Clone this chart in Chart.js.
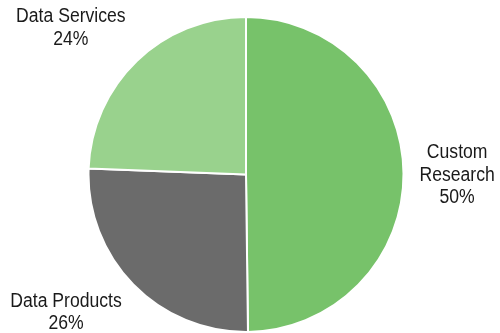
<!DOCTYPE html>
<html>
<head>
<meta charset="utf-8">
<script src="https://cdn.jsdelivr.net/npm/chart.js@4/dist/chart.umd.min.js"></script>
<style>
  html, body { margin: 0; padding: 0; background: #fff; }
  #wrap { width: 500px; height: 333px; }
</style>
</head>
<body>
<div id="wrap"><canvas id="pie"></canvas></div>
<script>
// categories + values (share of revenue, %)
var categories = ["Custom Research", "Data Products", "Data Services"];
var labelLines = [["Custom", "Research"], ["Data Products"], ["Data Services"]];
var shares = [49.8, 25.8, 24.4];
var sliceColors = ["#77C26A", "#6B6B6B", "#99D28D"];

//- outside labels, placed along each slice's mid angle
var outsideLabels = {
    id: "outsideLabels",
    afterDatasetsDraw: function (chart) {
        var ctx = chart.ctx;
        var meta = chart.getDatasetMeta(0);
        var total = shares.reduce(function (a, b) { return a + b; }, 0);
        var lineH = 22.5;
        var sx = 0.88; // labels look horizontally squeezed
        ctx.save();
        ctx.font = "20px 'Liberation Sans', Arial, sans-serif";
        ctx.fillStyle = "#1a1a1a";
        ctx.textAlign = "center";
        ctx.textBaseline = "middle";
        meta.data.forEach(function (arc, i) {
            var p = arc.getProps(["x", "y", "startAngle", "endAngle", "outerRadius"], true);
            var mid = (p.startAngle + p.endAngle) / 2;
            var d = p.outerRadius + 16;
            var dx = Math.cos(mid), dy = Math.sin(mid);
            var ax = p.x + dx * d, ay = p.y + dy * d;
            var lines = labelLines[i].concat([Math.round(shares[i] / total * 100) + "%"]);
            var w = 0;
            lines.forEach(function (l) { w = Math.max(w, ctx.measureText(l).width * sx); });
            var h = lines.length * lineH;
            var cx = dx >= 0 ? ax + w / 2 : ax - w / 2;
            var top = ay - h * (1 - dy) / 2;
            if (dy < 0) top += dy * 10;
            cx = Math.max(w / 2 + 2, Math.min(chart.width - w / 2 - 2, cx));
            top = Math.max(0, Math.min(chart.height - h, top));
            lines.forEach(function (l, k) {
                ctx.save();
                ctx.translate(cx, top + lineH * (k + 0.5) + 2);
                ctx.scale(sx, 1);
                ctx.fillText(l, 0, 0);
                ctx.restore();
            });
        });
        ctx.restore();
    }
};

new Chart(document.getElementById("pie"), {
    type: "pie",
    data: {
        labels: categories,
        datasets: [{
            data: shares,
            backgroundColor: sliceColors,
            borderColor: "#ffffff",
            borderWidth: 2
        }]
    },
    options: {
        responsive: true,
        maintainAspectRatio: false,
        animation: false,
        layout: { padding: { left: 87, right: 95, top: 16, bottom: 0 } },
        plugins: {
            legend: { display: false },
            tooltip: { enabled: false }
        }
    },
    plugins: [outsideLabels]
});
</script>
</body>
</html>
